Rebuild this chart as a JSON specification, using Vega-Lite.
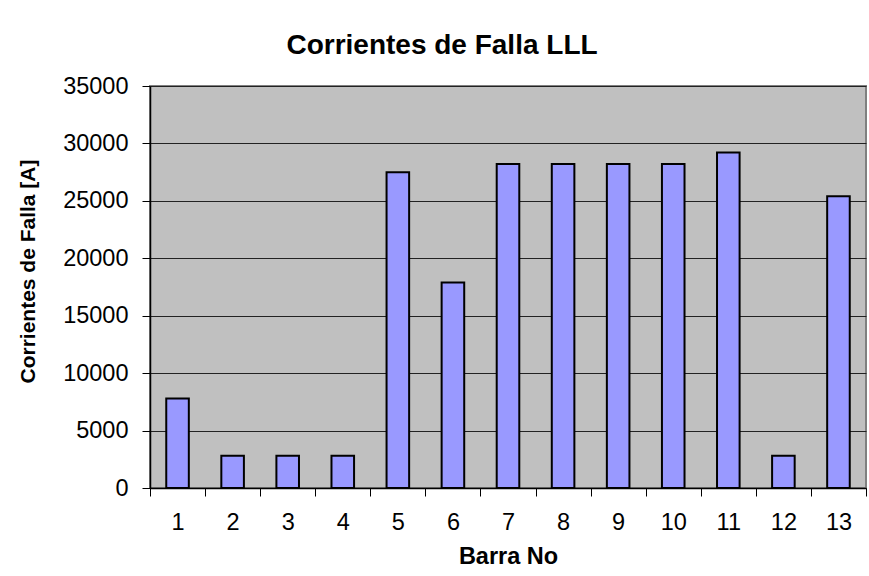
{
  "$schema": "https://vega.github.io/schema/vega-lite/v6.json",
  "width": 716,
  "height": 402,
  "autosize": {"type": "none"},
  "padding": {"left": 150, "top": 86, "right": 3, "bottom": 88},
  "background": "white",
  "title": {
    "text": "Corrientes de Falla LLL",
    "font": "Liberation Sans",
    "fontSize": 28,
    "fontWeight": "bold",
    "color": "black",
    "anchor": "middle",
    "frame": "group",
    "dx": -66,
    "offset": 14
  },
  "data": {
    "values": [
      {"barra": "1", "corriente": 7800},
      {"barra": "2", "corriente": 2800},
      {"barra": "3", "corriente": 2800},
      {"barra": "4", "corriente": 2800},
      {"barra": "5", "corriente": 27500},
      {"barra": "6", "corriente": 17900},
      {"barra": "7", "corriente": 28200},
      {"barra": "8", "corriente": 28200},
      {"barra": "9", "corriente": 28200},
      {"barra": "10", "corriente": 28200},
      {"barra": "11", "corriente": 29200},
      {"barra": "12", "corriente": 2800},
      {"barra": "13", "corriente": 25400}
    ]
  },
  "mark": {
    "type": "bar",
    "color": "#9999FF",
    "stroke": "black",
    "strokeWidth": 2,
    "width": {"band": 0.41}
  },
  "encoding": {
    "x": {
      "field": "barra",
      "type": "ordinal",
      "sort": null,
      "scale": {"paddingInner": 0, "paddingOuter": 0},
      "axis": {
        "title": "Barra No",
        "titleFont": "Liberation Sans",
        "titleFontSize": 23.5,
        "titleFontWeight": "bold",
        "titleColor": "black",
        "titleX": 358,
        "titleY": 68,
        "titleBaseline": "middle",
        "titleAlign": "center",
        "labelAngle": 0,
        "labelFont": "Liberation Sans",
        "labelFontSize": 23.5,
        "labelColor": "black",
        "labelPadding": 14,
        "tickBand": "extent",
        "tickColor": "black",
        "tickSize": 8,
        "tickWidth": 1,
        "domainColor": "black",
        "domainWidth": 1.5
      }
    },
    "y": {
      "field": "corriente",
      "type": "quantitative",
      "scale": {"domain": [0, 35000], "nice": false},
      "axis": {
        "title": "Corrientes de Falla [A]",
        "titleFont": "Liberation Sans",
        "titleFontSize": 21,
        "titleFontWeight": "bold",
        "titleColor": "black",
        "titleX": -122,
        "titleY": 185,
        "titleAngle": -90,
        "titleBaseline": "middle",
        "titleAlign": "center",
        "values": [0, 5000, 10000, 15000, 20000, 25000, 30000, 35000],
        "format": "d",
        "labelFont": "Liberation Sans",
        "labelFontSize": 23.5,
        "labelColor": "black",
        "labelPadding": 14,
        "tickColor": "black",
        "tickSize": 8,
        "tickWidth": 1,
        "grid": true,
        "gridColor": "#222222",
        "gridWidth": 1.2,
        "domainColor": "black",
        "domainWidth": 1.5
      }
    }
  },
  "config": {
    "view": {"fill": "#C0C0C0", "stroke": "#808080", "strokeWidth": 2}
  }
}
